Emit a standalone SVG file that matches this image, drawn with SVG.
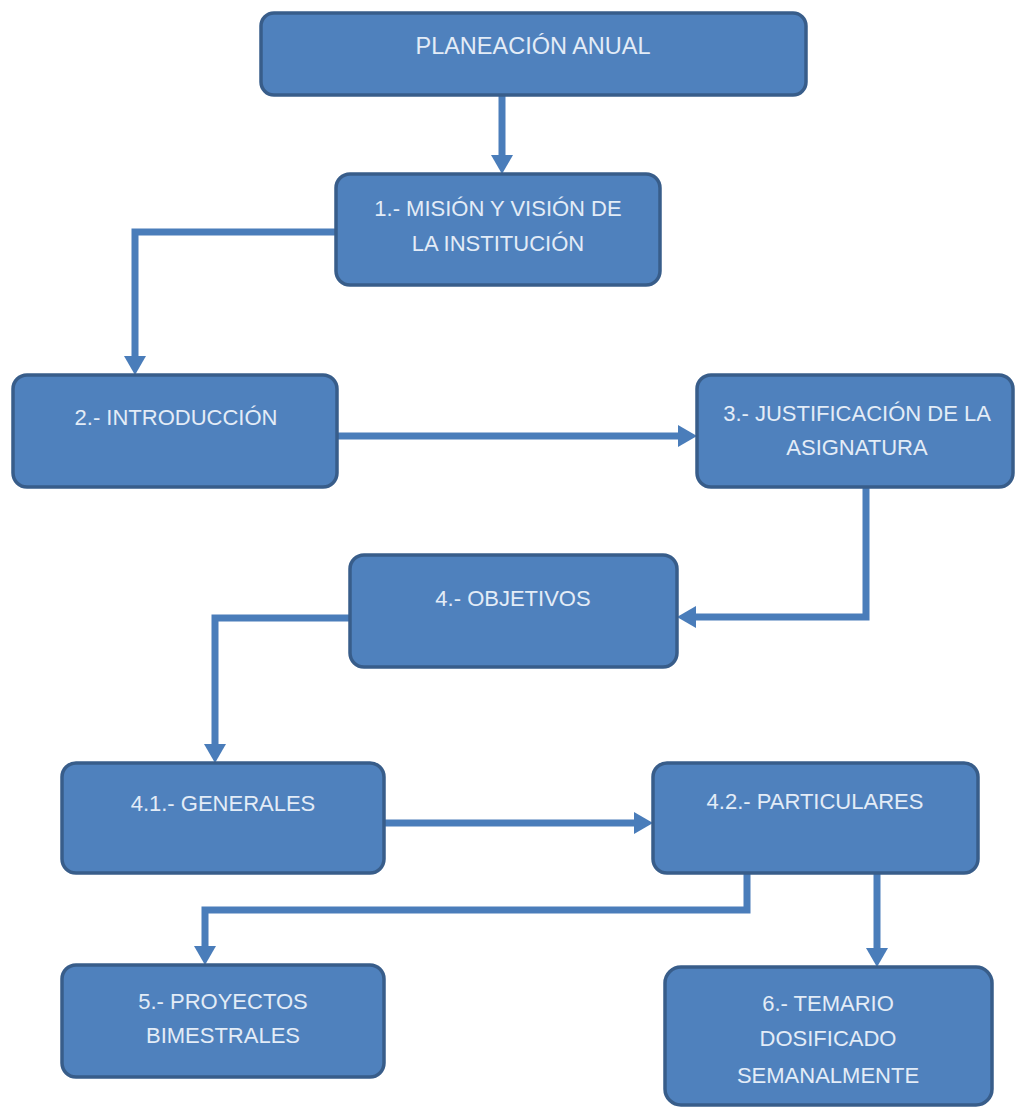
<svg xmlns="http://www.w3.org/2000/svg" width="1015" height="1109" viewBox="0 0 1015 1109">
  <style>
    .node rect { fill: #4f81bd; stroke: #385d8a; stroke-width: 3.5; }
    .node text { font-family: "Liberation Sans", Arial, sans-serif; font-size: 22px; fill: #e3ecf7; text-anchor: middle; }
    .title text { font-size: 23.5px; }
    .conn path { fill: none; stroke: #4a7dba; stroke-width: 7; stroke-linejoin: miter; marker-end: url(#arrow); }
  </style>
  <defs>
    <marker id="arrow" markerUnits="userSpaceOnUse" markerWidth="20" markerHeight="22" refX="0" refY="11" orient="auto">
      <path d="M0,0 L19,11 L0,22 Z" fill="#4a7dba"/>
    </marker>
  </defs>
  <rect width="1015" height="1109" fill="#ffffff"/>

  <g id="connectors" class="conn">
    <path d="M502,95 V155"/>
    <path d="M336,232 H135 V356"/>
    <path d="M337,436 H678"/>
    <path d="M866,487 V617 H696"/>
    <path d="M350,618 H215 V744"/>
    <path d="M384,823 H634"/>
    <path d="M747,873 V910 H205 V946"/>
    <path d="M877,873 V948"/>
  </g>

  <g id="n0" class="node title">
    <rect x="261" y="13" width="545" height="82" rx="13"/>
    <text x="533" y="54">PLANEACIÓN ANUAL</text>
  </g>
  <g id="n1" class="node">
    <rect x="336" y="174" width="324" height="111" rx="14"/>
    <text x="498" y="216">1.- MISIÓN Y VISIÓN DE</text>
    <text x="498" y="251">LA INSTITUCIÓN</text>
  </g>
  <g id="n2" class="node">
    <rect x="13" y="375" width="324" height="112" rx="14"/>
    <text x="176" y="425">2.- INTRODUCCIÓN</text>
  </g>
  <g id="n3" class="node">
    <rect x="697" y="375" width="316" height="112" rx="14"/>
    <text x="857" y="421">3.- JUSTIFICACIÓN DE LA</text>
    <text x="857" y="455">ASIGNATURA</text>
  </g>
  <g id="n4" class="node">
    <rect x="350" y="555" width="327" height="112" rx="14"/>
    <text x="513" y="606">4.- OBJETIVOS</text>
  </g>
  <g id="n41" class="node">
    <rect x="62" y="763" width="322" height="110" rx="14"/>
    <text x="223" y="811">4.1.- GENERALES</text>
  </g>
  <g id="n42" class="node">
    <rect x="653" y="763" width="325" height="110" rx="14"/>
    <text x="815" y="809">4.2.- PARTICULARES</text>
  </g>
  <g id="n5" class="node">
    <rect x="62" y="965" width="322" height="112" rx="14"/>
    <text x="223" y="1009">5.- PROYECTOS</text>
    <text x="223" y="1043">BIMESTRALES</text>
  </g>
  <g id="n6" class="node">
    <rect x="665" y="967" width="327" height="138" rx="16"/>
    <text x="828" y="1011">6.- TEMARIO</text>
    <text x="828" y="1046">DOSIFICADO</text>
    <text x="828" y="1083">SEMANALMENTE</text>
  </g>
</svg>
